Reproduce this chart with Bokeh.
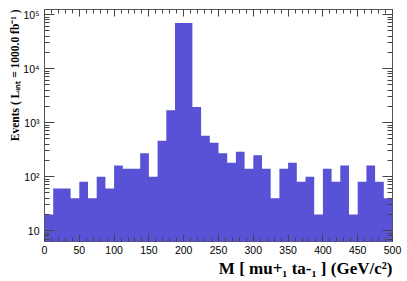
from bokeh.plotting import figure
from bokeh.models import (Range1d, LinearAxis, LogAxis, FixedTicker, Title,
                          ColumnDataSource, CustomJSTickFormatter)
from bokeh.embed import file_html
from bokeh.resources import INLINE

# ---- data ----
bin_width = 12.5
bin_low = [0, 12.5, 25, 37.5, 50, 62.5, 75, 87.5, 100, 112.5,
           125, 137.5, 150, 162.5, 175, 187.5, 200, 212.5, 225, 237.5,
           250, 262.5, 275, 287.5, 300, 312.5, 325, 337.5, 350, 362.5,
           375, 387.5, 400, 412.5, 425, 437.5, 450, 462.5, 475, 487.5]
counts = [20, 60, 60, 40, 80, 40, 100, 60, 160, 140,
          140, 270, 100, 460, 1700, 70000, 70000, 1950, 570, 425,
          270, 180, 290, 140, 250, 140, 40, 140, 180, 80,
          100, 20, 140, 80, 160, 20, 80, 160, 80, 40]
x_ticks = [0, 50, 100, 150, 200, 250, 300, 350, 400, 450, 500]
y_ticks = [10, 100, 1000, 10000, 100000]
y_tick_labels = ["10", "10²", "10³", "10⁴", "10⁵"]
x_title = "M [ mu+₁ ta-₁ ] (GeV/c²)"
y_title = "Events ( Lᵢₙₜ = 1000.0 fb⁻¹ )"

x_min, x_max = 0, 500
y_min, y_max = 6.3, 1.24e5

# step outline of the histogram (one filled area, no seams between bins)
step_x = bin_low + [bin_low[-1] + bin_width]
step_y = counts + [counts[-1]]
src = ColumnDataSource(dict(x=step_x, top=step_y, base=[1.0] * len(step_x)))

p = figure(width=404, height=280, x_range=Range1d(x_min, x_max),
           y_range=Range1d(y_min, y_max), y_axis_type="log",
           output_backend="svg", toolbar_location=None,
           min_border_left=44, min_border_right=12,
           min_border_top=9, min_border_bottom=39)
p.xgrid.visible = False
p.ygrid.visible = False
p.outline_line_color = "#555555"
p.outline_line_width = 1
p.background_fill_color = "white"
p.border_fill_color = "white"

p.varea_step(x="x", y1="base", y2="top", step_mode="after", source=src,
             fill_color="#5a52d6")

x_minor = list(range(0, 501, 10))
y_minor = [m * 10 ** e for e in range(0, 5) for m in range(2, 10)]
x_ticker = FixedTicker(ticks=x_ticks, minor_ticks=x_minor)
y_ticker = FixedTicker(ticks=y_ticks, minor_ticks=y_minor)
blank = CustomJSTickFormatter(code="return ''")

def style_ticks(ax, major, minor):
    ax.axis_line_color = None
    ax.major_tick_in = major
    ax.major_tick_out = 0
    ax.minor_tick_in = minor
    ax.minor_tick_out = 0
    ax.major_tick_line_color = "#444444"
    ax.minor_tick_line_color = "#444444"

xa = p.xaxis[0]
xa.ticker = x_ticker
style_ticks(xa, 7, 4)
xa.major_label_text_font = "Liberation Sans"
xa.major_label_text_font_size = "10.5px"
xa.major_label_text_color = "black"
xa.major_label_standoff = 4

ya = p.yaxis[0]
ya.ticker = y_ticker
style_ticks(ya, 10, 5)
ya.major_label_overrides = {t: l for t, l in zip(y_ticks, y_tick_labels)}
ya.major_label_text_font = "Liberation Sans"
ya.major_label_text_font_size = "10.5px"
ya.major_label_text_color = "black"
ya.major_label_standoff = 5

top_ax = LinearAxis(ticker=x_ticker, formatter=blank, major_label_standoff=0)
style_ticks(top_ax, 7, 4)
p.add_layout(top_ax, "above")
right_ax = LogAxis(ticker=y_ticker, formatter=blank, major_label_standoff=0)
style_ticks(right_ax, 10, 5)
p.add_layout(right_ax, "right")

p.add_layout(Title(text=x_title, align="right", standoff=0,
                   text_font="Liberation Serif", text_font_style="bold",
                   text_font_size="17px", text_color="black"), "below")
p.add_layout(Title(text=y_title, align="right", standoff=0,
                   text_font="Liberation Serif", text_font_style="bold",
                   text_font_size="11.5px", text_color="black"), "left")

open("out.html", "w").write(file_html(p, INLINE))
